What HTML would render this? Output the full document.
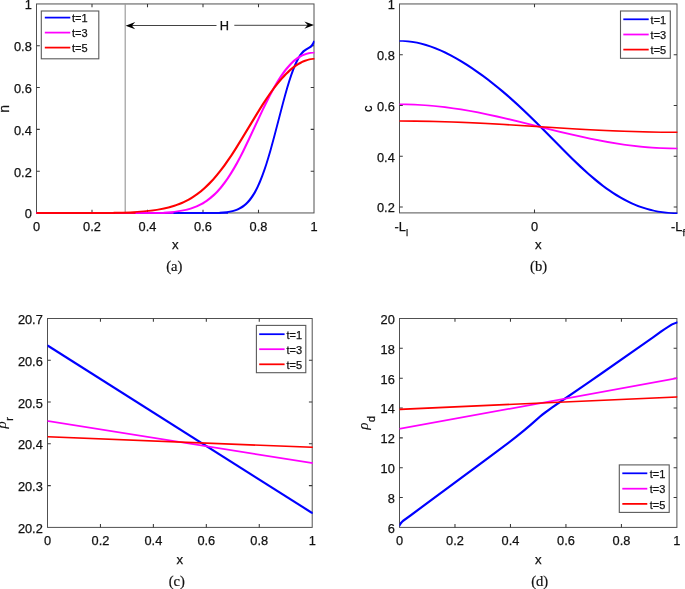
<!DOCTYPE html>
<html><head><meta charset="utf-8"><title>figure</title>
<style>html,body{margin:0;padding:0;background:#fff;overflow:hidden}svg{display:block}text{font-family:"Liberation Sans",sans-serif;fill:#111;stroke:#111;stroke-width:0.25px}.rho{font-family:"Liberation Serif",serif;font-style:italic;font-size:14.5px;stroke-width:0.1px}.cap{font-family:"Liberation Serif",serif;fill:#111;stroke-width:0.2px}</style>
</head><body>
<svg width="685" height="589" viewBox="0 0 685 589">
<rect width="685" height="589" fill="#fff"/>
<clipPath id="ca"><rect x="36.5" y="2.95" width="278.1" height="211"/></clipPath>
<rect x="36.5" y="3.95" width="277.5" height="209" fill="none" stroke="#505050" stroke-width="1.0"/>
<path d="M92 212.95 v-3.3 M92 3.95 v3.3 M147.5 212.95 v-3.3 M147.5 3.95 v3.3 M203 212.95 v-3.3 M203 3.95 v3.3 M258.5 212.95 v-3.3 M258.5 3.95 v3.3 M36.5 171.15 h3.3 M314 171.15 h-3.3 M36.5 129.35 h3.3 M314 129.35 h-3.3 M36.5 87.55 h3.3 M314 87.55 h-3.3 M36.5 45.75 h3.3 M314 45.75 h-3.3 " stroke="#383838" stroke-width="1.05" fill="none"/>
<text x="36.5" y="230.6" text-anchor="middle" font-size="12.8">0</text>
<text x="92" y="230.6" text-anchor="middle" font-size="12.8">0.2</text>
<text x="147.5" y="230.6" text-anchor="middle" font-size="12.8">0.4</text>
<text x="203" y="230.6" text-anchor="middle" font-size="12.8">0.6</text>
<text x="258.5" y="230.6" text-anchor="middle" font-size="12.8">0.8</text>
<text x="314" y="230.6" text-anchor="middle" font-size="12.8">1</text>
<text x="31.8" y="218.4" text-anchor="end" font-size="12.8">0</text>
<text x="31.8" y="176.6" text-anchor="end" font-size="12.8">0.2</text>
<text x="31.8" y="134.8" text-anchor="end" font-size="12.8">0.4</text>
<text x="31.8" y="93" text-anchor="end" font-size="12.8">0.6</text>
<text x="31.8" y="51.2" text-anchor="end" font-size="12.8">0.8</text>
<text x="31.8" y="9.4" text-anchor="end" font-size="12.8">1</text>
<g clip-path="url(#ca)">
<path d="M125.2 3.95 V212.95" stroke="#999" stroke-width="1.15"/>
<path d="M35.73 212.17 L219.22 212.17 L219.72 211.87 L223.22 211.62 L226.72 211.22 L229.72 210.72 L232.22 210.14 L234.72 209.39 L236.72 208.63 L238.72 207.7 L240.72 206.57 L242.22 205.58 L243.72 204.44 L245.22 203.15 L246.72 201.69 L248.22 200.04 L249.22 198.82 L250.72 196.82 L251.72 195.37 L253.22 192.98 L254.22 191.25 L255.72 188.45 L256.73 186.43 L259.23 180.86 L261.23 175.85 L263.23 170.35 L265.23 164.38 L267.23 157.97 L269.73 149.41 L273.73 134.72 L282.23 102.14 L284.73 93 L286.73 86.06 L288.73 79.54 L290.73 73.52 L292.73 68.06 L294.73 63.22 L296.23 60.02 L297.73 57.2 L299.23 54.78 L300.23 53.38 L301.23 52.15 L302.73 50.61 L304.23 49.39 L305.73 48.42 L308.73 46.77 L309.73 46.07 L310.23 45.65 L311.23 44.55 L311.73 43.84 L312.23 42.99 L312.73 41.97 L313.23 40.74 L314.73 40.74 L314.73 42.42 L313.98 44.13 L313.23 45.46 L312.48 46.46 L311.73 47.24 L311.23 47.66 L310.23 48.35 L307.23 50 L305.48 51.16 L304.73 51.76 L303.73 52.68 L302.23 54.36 L300.73 56.41 L299.23 58.84 L297.73 61.67 L296.23 64.88 L294.23 69.74 L292.23 75.21 L290.23 81.25 L288.23 87.78 L286.23 94.73 L283.98 102.95 L275.23 136.46 L271.23 151.14 L269.23 158.03 L266.98 165.31 L264.98 171.32 L262.98 176.86 L260.73 182.52 L258.23 188.08 L256.98 190.58 L255.72 192.89 L254.47 195.02 L253.22 196.99 L251.97 198.79 L250.72 200.43 L249.22 202.21 L247.97 203.54 L246.72 204.75 L245.22 206.03 L243.72 207.16 L242.22 208.15 L240.22 209.27 L238.22 210.2 L236.22 210.95 L233.72 211.7 L231.72 212.17 L229.22 212.63 L225.72 213.08 L221.47 213.41 L221.22 213.45 L220.72 213.72 L35.73 213.72Z" fill="#0000ff"/>
<rect x="35.73" y="212.17" width="192.28" height="1.55" fill="#0000ff"/>
<path d="M35.73 212.17 L163.22 212.17 L163.72 211.86 L170.72 211.34 L174.22 210.96 L177.22 210.57 L181.72 209.81 L185.72 208.94 L190.22 207.68 L194.22 206.28 L196.22 205.45 L198.22 204.54 L201.72 202.71 L203.72 201.51 L205.72 200.21 L209.22 197.62 L212.72 194.62 L214.72 192.71 L216.22 191.18 L219.72 187.27 L223.22 182.87 L226.72 177.97 L230.22 172.58 L233.22 167.58 L236.22 162.26 L239.22 156.63 L242.22 150.74 L248.22 138.34 L262.23 108.44 L265.73 101.27 L269.23 94.4 L273.23 87.02 L276.73 81.03 L280.23 75.54 L283.73 70.6 L285.73 68.02 L287.73 65.64 L289.73 63.46 L291.23 61.95 L293.23 60.1 L295.23 58.46 L297.23 57.02 L298.73 56.07 L300.23 55.23 L302.23 54.29 L303.73 53.72 L306.73 52.79 L308.73 52.33 L310.73 52.02 L312.73 51.88 L314.73 51.87 L314.73 53.42 L312.73 53.53 L310.73 53.8 L308.73 54.22 L306.73 54.79 L304.73 55.47 L302.73 56.31 L300.98 57.22 L299.23 58.27 L297.48 59.49 L295.73 60.85 L293.73 62.6 L291.98 64.29 L290.23 66.13 L288.23 68.42 L286.48 70.58 L284.73 72.89 L281.23 77.92 L277.98 83.07 L274.48 89.1 L270.73 96.05 L267.23 102.92 L263.73 110.09 L249.72 140 L243.72 152.39 L240.72 158.27 L237.72 163.9 L234.72 169.22 L231.97 173.81 L228.72 178.85 L225.22 183.82 L221.72 188.28 L218.22 192.25 L216.47 194.06 L214.72 195.75 L212.97 197.33 L211.22 198.81 L209.22 200.36 L207.22 201.79 L205.22 203.1 L203.47 204.14 L199.72 206.11 L197.72 207.02 L195.72 207.85 L191.72 209.25 L187.47 210.44 L183.22 211.37 L178.72 212.12 L172.47 212.87 L165.47 213.39 L165.22 213.44 L164.72 213.72 L35.73 213.72Z" fill="#ff00ff"/>
<rect x="35.73" y="212.17" width="137.78" height="1.55" fill="#ff00ff"/>
<path d="M35.73 212.17 L113.22 212.17 L113.72 211.87 L122.72 211.67 L130.22 211.4 L137.22 211.03 L143.72 210.54 L150.72 209.81 L156.72 208.97 L162.72 207.87 L168.22 206.57 L173.22 205.11 L175.72 204.26 L178.22 203.33 L180.72 202.31 L183.22 201.18 L187.72 198.89 L190.22 197.45 L192.22 196.21 L196.22 193.49 L200.22 190.41 L204.22 186.95 L208.22 183.12 L212.22 178.88 L216.22 174.26 L220.22 169.25 L223.22 165.25 L226.72 160.33 L230.22 155.18 L234.22 149.03 L240.72 138.58 L257.23 111.27 L261.73 104.1 L265.73 97.98 L270.23 91.44 L274.23 86 L278.23 80.97 L281.73 76.92 L284.23 74.25 L286.23 72.24 L288.23 70.36 L290.23 68.6 L292.73 66.59 L294.73 65.12 L296.73 63.79 L298.73 62.59 L300.73 61.52 L302.73 60.59 L304.73 59.8 L306.73 59.14 L309.23 58.51 L311.23 58.16 L313.23 57.94 L314.73 57.94 L314.73 59.5 L312.73 59.71 L310.73 60.07 L308.73 60.56 L306.73 61.19 L304.73 61.95 L302.73 62.85 L300.73 63.89 L298.73 65.06 L296.73 66.36 L294.73 67.8 L292.73 69.37 L290.73 71.06 L288.73 72.88 L286.73 74.83 L284.73 76.9 L282.73 79.08 L278.73 83.8 L274.98 88.61 L270.98 94.12 L266.73 100.35 L262.73 106.51 L258.73 112.9 L242.47 139.8 L235.72 150.66 L231.97 156.43 L228.47 161.59 L225.22 166.18 L221.72 170.86 L217.72 175.87 L213.72 180.49 L209.72 184.72 L205.72 188.55 L201.72 192 L197.72 195.07 L193.72 197.79 L191.47 199.18 L189.22 200.46 L184.72 202.76 L182.22 203.88 L179.72 204.9 L177.22 205.83 L174.72 206.68 L169.72 208.13 L164.22 209.43 L158.22 210.53 L151.97 211.4 L145.22 212.09 L138.72 212.58 L131.97 212.94 L124.22 213.22 L115.47 213.41 L115.22 213.45 L114.72 213.72 L35.73 213.72Z" fill="#ff0000"/>
<rect x="35.73" y="212.17" width="99.78" height="1.55" fill="#ff0000"/>
</g>
<rect x="41.3" y="11" width="57.5" height="47.8" fill="#fff" stroke="#5a5a5a" stroke-width="1.1"/>
<path d="M44.8 17.6 H70.3" stroke="#0000ff" stroke-width="1.75"/>
<text x="72" y="22.2" font-size="11.0">t=1</text>
<path d="M44.8 32.6 H70.3" stroke="#ff00ff" stroke-width="1.75"/>
<text x="72" y="37.2" font-size="11.0">t=3</text>
<path d="M44.8 47.6 H70.3" stroke="#ff0000" stroke-width="1.75"/>
<text x="72" y="52.2" font-size="11.0">t=5</text>
<path d="M130 25.5 H216.5 M234.3 25.3 H309" stroke="#111" stroke-width="0.8" fill="none"/>
<polygon points="125.6,25.7 135.2,22.1 131.9,25.7 135.2,29.3" fill="#000"/>
<polygon points="314,25.1 304.4,21.5 307.7,25.1 304.4,28.7" fill="#000"/>
<text x="224.3" y="29.9" text-anchor="middle" font-size="12.8">H</text>
<text x="175.25" y="249.1" text-anchor="middle" font-size="13.2">x</text>
<text transform="translate(8.6 108.75) rotate(-90)" text-anchor="middle" font-size="14.0">n</text>
<text class="cap" x="174.25" y="270.7" text-anchor="middle" font-size="14.6">(a)</text>
<clipPath id="cb"><rect x="399.5" y="2.95" width="278.1" height="210.95"/></clipPath>
<rect x="399.5" y="3.95" width="277.5" height="208.95" fill="none" stroke="#505050" stroke-width="1.0"/>
<path d="M534.5 212.9 v-3.3 M534.5 3.95 v3.3 M399.5 206.9 h3.3 M677 206.9 h-3.3 M399.5 156.16 h3.3 M677 156.16 h-3.3 M399.5 105.43 h3.3 M677 105.43 h-3.3 M399.5 54.69 h3.3 M677 54.69 h-3.3 " stroke="#383838" stroke-width="1.05" fill="none"/>
<text x="534.5" y="230.55" text-anchor="middle" font-size="12.8">0</text>
<text x="394.8" y="212.35" text-anchor="end" font-size="12.8">0.2</text>
<text x="394.8" y="161.61" text-anchor="end" font-size="12.8">0.4</text>
<text x="394.8" y="110.88" text-anchor="end" font-size="12.8">0.6</text>
<text x="394.8" y="60.14" text-anchor="end" font-size="12.8">0.8</text>
<text x="394.8" y="9.4" text-anchor="end" font-size="12.8">1</text>
<g clip-path="url(#cb)">
<path d="M398.73 40.14 L403.48 40.2 L408.23 40.52 L412.48 41.02 L417.23 41.83 L421.48 42.77 L426.23 44.05 L431.23 45.66 L435.48 47.22 L440.23 49.17 L445.48 51.56 L451.23 54.44 L456.23 57.16 L461.48 60.21 L467.23 63.77 L472.48 67.21 L478.23 71.16 L483.23 74.76 L488.23 78.5 L493.23 82.38 L498.23 86.4 L503.23 90.55 L508.23 94.83 L513.23 99.23 L518.23 103.76 L527.23 112.21 L536.23 120.97 L545.23 129.97 L564.23 149.24 L573.23 158.18 L581.48 166.08 L589.23 173.13 L596.23 179.12 L600.23 182.36 L603.48 184.88 L607.23 187.66 L610.23 189.78 L613.48 191.98 L617.23 194.37 L621.23 196.76 L624.48 198.57 L628.23 200.51 L632.23 202.42 L636.23 204.15 L639.48 205.43 L643.23 206.76 L647.23 208.03 L651.23 209.12 L654.48 209.89 L658.23 210.66 L662.23 211.32 L666.23 211.82 L670.23 212.18 L674.23 212.39 L677.73 212.44 L677.73 213.99 L673.73 213.97 L669.73 213.8 L665.73 213.48 L661.73 213.01 L657.73 212.39 L653.73 211.62 L649.73 210.69 L645.73 209.59 L641.73 208.33 L637.73 206.9 L633.73 205.3 L630.73 203.99 L626.73 202.09 L623.73 200.54 L619.73 198.34 L615.73 195.95 L612.73 194.05 L608.73 191.37 L605.73 189.25 L601.73 186.28 L598.73 183.95 L594.73 180.72 L590.73 177.34 L586.73 173.84 L579.73 167.44 L571.73 159.78 L562.73 150.84 L543.73 131.57 L535.73 123.56 L526.73 114.76 L517.73 106.28 L512.73 101.73 L507.73 97.29 L502.73 92.98 L497.73 88.81 L492.73 84.76 L487.73 80.86 L482.73 77.09 L477.73 73.46 L471.73 69.3 L466.73 65.99 L460.73 62.24 L455.73 59.3 L450.73 56.55 L445.73 53.98 L440.73 51.62 L435.73 49.48 L430.73 47.58 L425.73 45.92 L420.73 44.52 L416.73 43.59 L411.73 42.69 L407.73 42.17 L402.73 41.79 L398.73 41.69Z" fill="#0000ff"/>
<path d="M398.73 103.53 L406.23 103.58 L414.23 103.8 L421.48 104.16 L429.23 104.7 L437.23 105.43 L445.23 106.33 L453.23 107.38 L461.23 108.58 L469.48 109.97 L478.23 111.59 L487.23 113.4 L497.23 115.55 L506.48 117.66 L517.23 120.23 L556.23 129.9 L572.48 133.8 L581.48 135.84 L590.23 137.73 L598.23 139.35 L606.23 140.86 L616.23 142.57 L625.23 143.93 L634.23 145.09 L643.23 146.06 L652.23 146.81 L660.48 147.3 L669.23 147.62 L677.73 147.72 L677.73 149.28 L669.73 149.22 L662.73 149.02 L655.73 148.68 L647.73 148.13 L639.73 147.41 L631.73 146.53 L623.73 145.49 L615.73 144.29 L607.73 142.96 L598.73 141.3 L589.73 139.5 L579.73 137.35 L569.73 135.07 L559.73 132.68 L520.73 123.01 L503.73 118.93 L494.73 116.89 L485.73 114.96 L477.73 113.34 L469.73 111.84 L460.73 110.3 L451.73 108.94 L442.73 107.76 L433.73 106.79 L424.73 106.03 L415.73 105.48 L406.73 105.17 L398.73 105.08Z" fill="#ff00ff"/>
<path d="M398.73 120.22 L414.23 120.3 L429.23 120.53 L445.23 120.94 L461.23 121.52 L478.23 122.29 L497.23 123.3 L517.23 124.49 L572.48 127.96 L590.23 128.97 L606.23 129.77 L625.23 130.55 L643.23 131.1 L660.48 131.42 L677.73 131.52 L677.73 133.08 L662.73 133.01 L647.73 132.78 L631.73 132.37 L615.73 131.8 L598.73 131.04 L579.73 130.03 L559.73 128.83 L503.73 125.32 L485.73 124.3 L469.73 123.5 L451.73 122.76 L433.73 122.21 L415.73 121.88 L398.73 121.78Z" fill="#ff0000"/>
</g>
<text x="394.6" y="231.2" font-size="12.8">-L<tspan dy="4.6" font-size="9.6">l</tspan></text>
<text x="671.0" y="231.2" font-size="12.8">-L<tspan dy="4.6" font-size="9.6">f</tspan></text>
<rect x="620.5" y="11" width="49.8" height="47.3" fill="#fff" stroke="#5a5a5a" stroke-width="1.1"/>
<path d="M623.3 19.3 H648.7" stroke="#0000ff" stroke-width="1.75"/>
<text x="650.6" y="23.9" font-size="11.0">t=1</text>
<path d="M623.3 34.5 H648.7" stroke="#ff00ff" stroke-width="1.75"/>
<text x="650.6" y="39.1" font-size="11.0">t=3</text>
<path d="M623.3 49.6 H648.7" stroke="#ff0000" stroke-width="1.75"/>
<text x="650.6" y="54.2" font-size="11.0">t=5</text>
<text x="538.25" y="249.1" text-anchor="middle" font-size="13.2">x</text>
<text transform="translate(372.0 108.72) rotate(-90)" text-anchor="middle" font-size="13.2">c</text>
<text class="cap" x="538.55" y="270.7" text-anchor="middle" font-size="14.6">(b)</text>
<clipPath id="cc"><rect x="47.5" y="317.5" width="265.3" height="210.9"/></clipPath>
<rect x="47.5" y="318.5" width="264.7" height="208.9" fill="none" stroke="#505050" stroke-width="1.0"/>
<path d="M100.44 527.4 v-3.3 M100.44 318.5 v3.3 M153.38 527.4 v-3.3 M153.38 318.5 v3.3 M206.32 527.4 v-3.3 M206.32 318.5 v3.3 M259.26 527.4 v-3.3 M259.26 318.5 v3.3 M47.5 485.62 h3.3 M312.2 485.62 h-3.3 M47.5 443.84 h3.3 M312.2 443.84 h-3.3 M47.5 402.06 h3.3 M312.2 402.06 h-3.3 M47.5 360.28 h3.3 M312.2 360.28 h-3.3 " stroke="#383838" stroke-width="1.05" fill="none"/>
<text x="47.5" y="545.05" text-anchor="middle" font-size="12.8">0</text>
<text x="100.44" y="545.05" text-anchor="middle" font-size="12.8">0.2</text>
<text x="153.38" y="545.05" text-anchor="middle" font-size="12.8">0.4</text>
<text x="206.32" y="545.05" text-anchor="middle" font-size="12.8">0.6</text>
<text x="259.26" y="545.05" text-anchor="middle" font-size="12.8">0.8</text>
<text x="312.2" y="545.05" text-anchor="middle" font-size="12.8">1</text>
<text x="42.8" y="532.85" text-anchor="end" font-size="12.8">20.2</text>
<text x="42.8" y="491.07" text-anchor="end" font-size="12.8">20.3</text>
<text x="42.8" y="449.29" text-anchor="end" font-size="12.8">20.4</text>
<text x="42.8" y="407.51" text-anchor="end" font-size="12.8">20.5</text>
<text x="42.8" y="365.73" text-anchor="end" font-size="12.8">20.6</text>
<text x="42.8" y="323.95" text-anchor="end" font-size="12.8">20.7</text>
<g clip-path="url(#cc)">
<path d="M46.73 344.73 L48.23 344.73 L48.48 344.85 L312.98 512.23 L312.98 513.77 L311.48 513.77 L311.23 513.65 L46.73 346.27Z" fill="#0000ff"/>
<path d="M46.73 420.23 L48.48 420.26 L312.98 462.33 L312.98 463.88 L311.23 463.84 L46.73 421.77Z" fill="#ff00ff"/>
<path d="M46.73 436.03 L48.48 436.03 L312.98 446.53 L312.98 448.07 L311.23 448.07 L46.73 437.57Z" fill="#ff0000"/>
</g>
<rect x="256.4" y="325.4" width="49.4" height="47.3" fill="#fff" stroke="#5a5a5a" stroke-width="1.1"/>
<path d="M259.2 334.2 H284.6" stroke="#0000ff" stroke-width="1.75"/>
<text x="286.5" y="338.8" font-size="11.0">t=1</text>
<path d="M259.2 349.2 H284.6" stroke="#ff00ff" stroke-width="1.75"/>
<text x="286.5" y="353.8" font-size="11.0">t=3</text>
<path d="M259.2 364.3 H284.6" stroke="#ff0000" stroke-width="1.75"/>
<text x="286.5" y="368.9" font-size="11.0">t=5</text>
<text x="179.85" y="563.7" text-anchor="middle" font-size="13.2">x</text>
<text class="cap" x="176.75" y="586.0" text-anchor="middle" font-size="14.6">(c)</text>
<text transform="translate(6.4 422.75) rotate(-90)" text-anchor="middle" font-size="13.2"><tspan class="rho">ρ</tspan><tspan dy="6.8" dx="0.5" font-size="10.8">r</tspan></text>
<clipPath id="cd"><rect x="399.5" y="317.5" width="278" height="210.9"/></clipPath>
<rect x="399.5" y="318.5" width="277.4" height="208.9" fill="none" stroke="#505050" stroke-width="1.0"/>
<path d="M454.98 527.4 v-3.3 M454.98 318.5 v3.3 M510.46 527.4 v-3.3 M510.46 318.5 v3.3 M565.94 527.4 v-3.3 M565.94 318.5 v3.3 M621.42 527.4 v-3.3 M621.42 318.5 v3.3 M399.5 497.56 h3.3 M676.9 497.56 h-3.3 M399.5 467.71 h3.3 M676.9 467.71 h-3.3 M399.5 437.87 h3.3 M676.9 437.87 h-3.3 M399.5 408.03 h3.3 M676.9 408.03 h-3.3 M399.5 378.19 h3.3 M676.9 378.19 h-3.3 M399.5 348.34 h3.3 M676.9 348.34 h-3.3 " stroke="#383838" stroke-width="1.05" fill="none"/>
<text x="399.5" y="545.05" text-anchor="middle" font-size="12.8">0</text>
<text x="454.98" y="545.05" text-anchor="middle" font-size="12.8">0.2</text>
<text x="510.46" y="545.05" text-anchor="middle" font-size="12.8">0.4</text>
<text x="565.94" y="545.05" text-anchor="middle" font-size="12.8">0.6</text>
<text x="621.42" y="545.05" text-anchor="middle" font-size="12.8">0.8</text>
<text x="676.9" y="545.05" text-anchor="middle" font-size="12.8">1</text>
<text x="394.8" y="532.85" text-anchor="end" font-size="12.8">6</text>
<text x="394.8" y="503.01" text-anchor="end" font-size="12.8">8</text>
<text x="394.8" y="473.16" text-anchor="end" font-size="12.8">10</text>
<text x="394.8" y="443.32" text-anchor="end" font-size="12.8">12</text>
<text x="394.8" y="413.48" text-anchor="end" font-size="12.8">14</text>
<text x="394.8" y="383.64" text-anchor="end" font-size="12.8">16</text>
<text x="394.8" y="353.79" text-anchor="end" font-size="12.8">18</text>
<text x="394.8" y="323.95" text-anchor="end" font-size="12.8">20</text>
<g clip-path="url(#cd)">
<path d="M398.62 524.98 L399.62 523.12 L400.12 522.36 L401.12 521.17 L402.62 519.8 L409.62 514.73 L485.62 458.55 L508.12 441.74 L515.12 436.26 L523.12 429.74 L529.62 424.26 L539.62 415.41 L541.62 413.79 L544.62 411.55 L551.62 406.52 L561.62 399.54 L586.62 382.46 L600.12 373.12 L652.12 336.71 L660.62 330.59 L664.12 328.15 L669.12 324.94 L670.62 324.05 L672.12 323.27 L674.12 322.4 L676.12 321.69 L676.38 321.62 L677.88 321.62 L677.88 323.17 L675.12 324.18 L672.62 325.35 L668.62 327.77 L665.12 330.07 L653.62 338.3 L601.62 374.71 L588.12 384.05 L563.12 401.13 L552.88 408.28 L546.12 413.14 L543.12 415.38 L540.88 417.21 L531.62 425.42 L525.12 430.92 L517.38 437.25 L510.62 442.56 L487.62 459.76 L411.38 516.14 L404.12 521.39 L402.88 522.52 L401.88 523.66 L401.12 524.76 L400.12 526.52 L398.62 526.52Z" fill="#0000ff"/>
<path d="M398.73 428.03 L675.98 377.55 L677.48 377.53 L677.48 379.11 L400.48 429.54 L398.73 429.57Z" fill="#ff00ff"/>
<path d="M398.73 408.62 L675.98 396.13 L677.48 396.12 L677.48 397.68 L400.48 410.17 L398.73 410.17Z" fill="#ff0000"/>
</g>
<rect x="619.3" y="464.9" width="49.9" height="47.5" fill="#fff" stroke="#5a5a5a" stroke-width="1.1"/>
<path d="M622.3 473.3 H647.3" stroke="#0000ff" stroke-width="1.75"/>
<text x="649.8" y="477.9" font-size="11.0">t=1</text>
<path d="M622.3 488.7 H647.3" stroke="#ff00ff" stroke-width="1.75"/>
<text x="649.8" y="493.3" font-size="11.0">t=3</text>
<path d="M622.3 503.9 H647.3" stroke="#ff0000" stroke-width="1.75"/>
<text x="649.8" y="508.5" font-size="11.0">t=5</text>
<text x="538.2" y="563.7" text-anchor="middle" font-size="13.2">x</text>
<text class="cap" x="539.65" y="586.0" text-anchor="middle" font-size="14.6">(d)</text>
<text transform="translate(367.6 422.75) rotate(-90)" text-anchor="middle" font-size="13.2"><tspan class="rho">ρ</tspan><tspan dy="7.3" dx="0.5" font-size="10.8">d</tspan></text>
</svg></body></html>
